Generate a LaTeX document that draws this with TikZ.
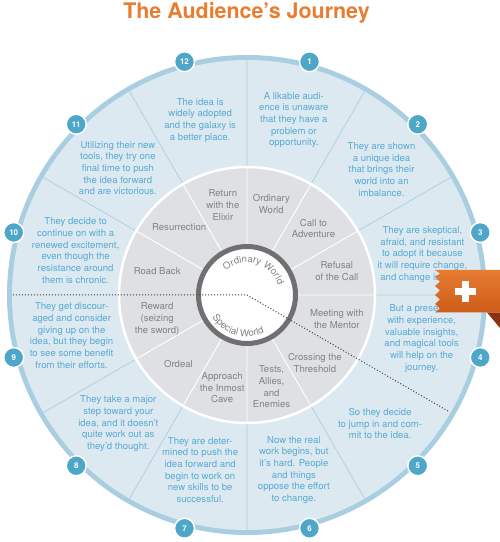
\documentclass[tikz,border=0pt]{standalone}
\usepackage{fontspec}
\setmainfont{TeX Gyre Heros}
\usetikzlibrary{calc,decorations.text,shadings}

\definecolor{bandblue}{RGB}{170,206,225}
\definecolor{sectorblue}{RGB}{221,233,241}
\definecolor{divblue}{RGB}{172,206,224}
\definecolor{noteblue}{RGB}{86,170,210}
\definecolor{numblue}{RGB}{78,166,200}
\definecolor{ringgray}{RGB}{222,224,227}
\definecolor{stagegray}{RGB}{128,130,132}
\definecolor{darkring}{RGB}{112,112,114}
\definecolor{titleorange}{RGB}{232,125,50}
\definecolor{tagtop}{RGB}{232,124,50}
\definecolor{tagbottom}{RGB}{204,92,24}
\definecolor{tagfold}{RGB}{140,48,20}

\begin{document}
\begin{tikzpicture}[
    x=1bp, y=1bp,
    note/.style={align=center, text=noteblue, inner sep=0pt,
                 font=\fontsize{9.6}{11.7}\selectfont},
    stage/.style={align=center, text=stagegray, inner sep=0pt,
                  font=\fontsize{9.6}{11.7}\selectfont},
    numdot/.style={circle, fill=numblue, draw=white, line width=1.5bp, minimum size=20bp,
                   inner sep=0pt, text=white, font=\fontsize{8}{8}\selectfont\bfseries},
    divider/.style={draw=divblue, line width=0.7bp},
    spoke/.style={draw=white, line width=0.9bp},
    cut/.style={draw=black!75, line width=1bp, dash pattern=on 1bp off 2bp},
    title/.style={text=titleorange, inner sep=0pt, font=\fontsize{21.5}{24}\selectfont\bfseries}
]
\useasboundingbox (-247,-247) rectangle (253,295);
\coordinate (hub) at (0,0);
\fill[bandblue] (hub) circle (240);
\fill[sectorblue] (hub) circle (235);
\draw[divider] (90:128)--(90:235) (60:128)--(60:235) (30:128)--(30:235) (0:128)--(0:235)
               (-60:128)--(-60:235) (-90:128)--(-90:235) (-120:128)--(-120:235)
               (-150:128)--(-150:235) (150:128)--(150:235) (120:128)--(120:235);
\fill[ringgray] (hub) circle (127);
\draw[white, line width=2.5bp] (hub) circle (128);
\draw[spoke] (90:50)--(90:127) (60:50)--(60:127) (30:50)--(30:127) (0:50)--(0:127)
             (-60:50)--(-60:127) (-90:50)--(-90:127) (-120:50)--(-120:127)
             (-150:50)--(-150:127) (150:50)--(150:127) (120:50)--(120:127);
\fill[white] (hub) circle (48.5);
\draw[darkring, line width=5bp] (hub) circle (48.5);
\path[decorate, decoration={text along path, text align=center, text color=stagegray,
      text={|\fontsize{9.6}{10}\selectfont|Ordinary World}}]
      (149:32.5) arc[start angle=149, end angle=-1, radius=32.5];
\path[decorate, decoration={text along path, text align=center, text color=stagegray,
      text={|\fontsize{9.6}{10}\selectfont|Special World}}]
      (-181:41.5) arc[start angle=-181, end angle=-31, radius=41.5];

\coordinate (cutW) at (180:234);
\coordinate (cutSE) at (-30:234);
\draw[cut] (cutW)--(hub)--(cutSE);

\node[stage] (s1) at (75:94) {Ordinary\\World};
\node[stage] (s2) at (45:94) {Call to\\Adventure};
\node[stage] (s3) at (15:93) {Refusal\\of the Call};
\node[stage] (s4) at (-15:93) {Meeting with\\the Mentor};
\node[stage] (s5) at (-45:96) {Crossing the\\Threshold};
\node[stage] (s6) at (-75:95) {Tests,\\Allies,\\and\\Enemies};
\node[stage] (s7) at (-105:96) {Approach\\the Inmost\\Cave};
\node[stage] (s8) at (-135:97) {Ordeal};
\node[stage] (s9) at (-165:93) {Reward\\(seizing\\the sword)};
\node[stage] (s10) at (165:93) {Road Back};
\node[stage] (s11) at (135:96) {Resurrection};
\node[stage] (s12) at (105:93) {Return\\with the\\Elixir};

\node[note] (t1) at (75:181) {A likable audi-\\ence is unaware\\that they have a\\problem or\\opportunity.};
\node[note] (t2) at (43:184) {They are shown\\a unique idea\\that brings their\\world into an\\imbalance.};
\node[note] (t3) at (13:180) {They are skeptical,\\afraid, and resistant\\to adopt it because\\it will require change,\\and change is hard.};
\node[note] (t4) at (-14:180) {But a presence\\with experience,\\valuable insights,\\and magical tools\\will help on the\\journey.};
\node[note] (t5) at (-44:185) {So they decide\\to jump in and com-\\mit to the idea.};
\node[note] (t6) at (-75:181) {Now the real\\work begins, but\\it’s hard. People\\and things\\oppose the effort\\to change.};
\node[note] (t7) at (-105:181) {They are deter-\\mined to push the\\idea forward and\\begin to work on\\new skills to be\\successful.};
\node[note] (t8) at (-135:182) {They take a major\\step toward your\\idea, and it doesn’t\\quite work out as\\they’d thought.};
\node[note] (t9) at (-167:180) {They get discour-\\aged and consider\\giving up on the\\idea, but they begin\\to see some benefit\\from their efforts.};
\node[note] (t10) at (165.5:177) {They decide to\\continue on with a\\renewed excitement,\\even though the\\resistance around\\them is chronic.};
\node[note] (t11) at (135.5:181) {Utilizing their new\\tools, they try one\\final time to push\\the idea forward\\and are victorious.};
\node[note] (t12) at (105:181) {The idea is\\widely adopted\\and the galaxy is\\a better place.};

\node[numdot] (n1) at (75:241.5) {1};
\node[numdot] (n2) at (45:241.5) {2};
\node[numdot] (n3) at (15:241.5) {3};
\node[numdot] (n4) at (-15:241.5) {4};
\node[numdot] (n5) at (-45:241.5) {5};
\node[numdot] (n6) at (-75:241.5) {6};
\node[numdot] (n7) at (-105:241.5) {7};
\node[numdot] (n8) at (-135:241.5) {8};
\node[numdot] (n9) at (-165:241.5) {9};
\node[numdot] (n10) at (165:241.5) {10};
\node[numdot] (n11) at (135:241.5) {11};
\node[numdot] (n12) at (105:241.5) {12};

\fill[tagfold] (240,-17.5) -- (253,-17.5) -- (253,-33) -- cycle;
\shade[top color=tagtop, bottom color=tagbottom]
    (188,25) -- (253,25) -- (253,-17.5) -- (188,-17.5) -- (193,-13.5) -- (188,-9) -- (193,-4.5)
    -- (188,0) -- (193,4.5) -- (188,9) -- (193,13.5) -- (188,18) -- (193,21.5) -- cycle;
\coordinate (plus) at (218,3);
\fill[white] ($(plus)+(-10.5,-3.5)$) rectangle ($(plus)+(10.5,3.5)$);
\fill[white] ($(plus)+(-3.5,-10.5)$) rectangle ($(plus)+(3.5,10.5)$);

\node[title, anchor=base] (title) at (-0.5,276.7) {The Audience’s Journey};
\end{tikzpicture}
\end{document}
